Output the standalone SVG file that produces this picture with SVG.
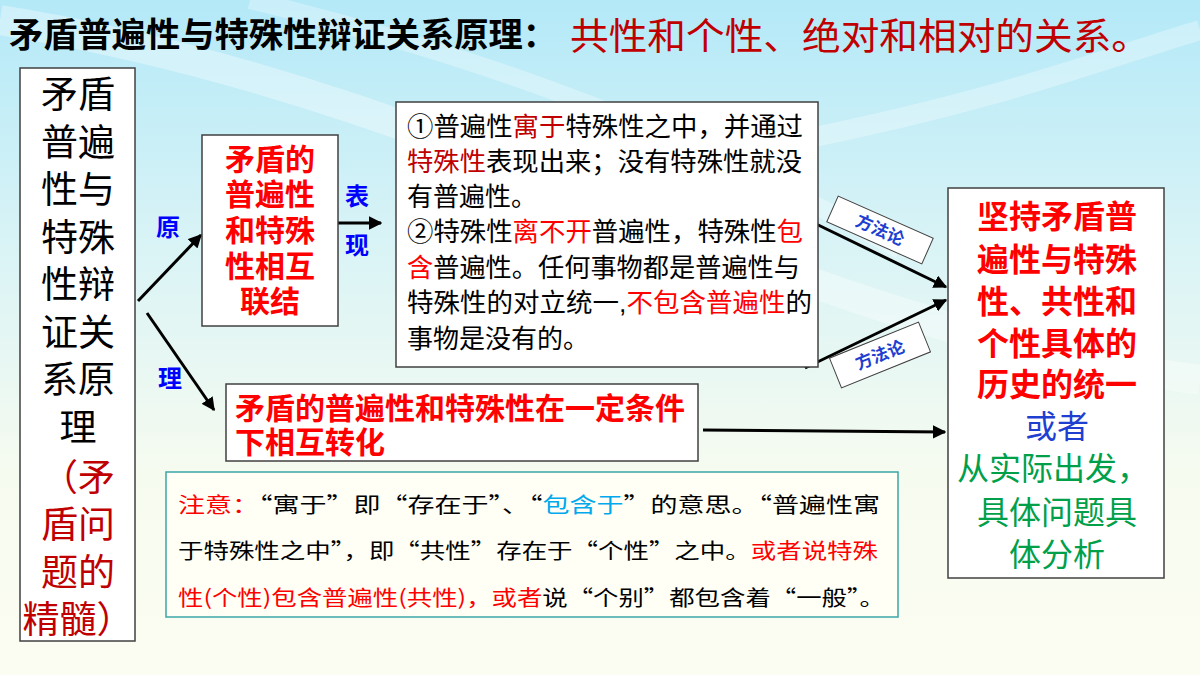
<svg xmlns="http://www.w3.org/2000/svg" width="1200" height="675" viewBox="0 0 1200 675">
<defs>
<linearGradient id="bg" x1="0" y1="0" x2="0" y2="1">
<stop offset="0" stop-color="#b4e9f8"/>
<stop offset="0.35" stop-color="#d8f3f6"/>
<stop offset="0.7" stop-color="#f6fbf0"/>
<stop offset="1" stop-color="#fcfdf2"/>
</linearGradient>
<marker id="ah" viewBox="0 0 10 10" refX="9" refY="5" markerWidth="4.5" markerHeight="4.5" orient="auto" markerUnits="strokeWidth">
<path d="M0,0 L10,5 L0,10 z" fill="#000"/>
</marker>
</defs>
<style>
text{font-family:"Liberation Sans","Noto Sans CJK SC",sans-serif;}
.cjk{font-family:"Noto Sans CJK SC","Liberation Sans",sans-serif;}
.box{fill:#fff;stroke:#404040;stroke-width:1.5;}
.arr{stroke:#000;stroke-width:3;fill:none;marker-end:url(#ah);}
.lbl{fill:#fff;stroke:#404040;stroke-width:1;}
.blue{fill:#0000ff;font-weight:bold;font-size:24px;}
.ff{fill:#1f3fd0;font-size:17px;font-weight:bold;}
.r{fill:#ff0000;}
.dr{fill:#c00000;}
</style>
<rect width="1200" height="675" fill="url(#bg)"/>
<path d="M0,20 C250,60 450,140 700,240 C900,320 1050,360 1200,380" stroke="#ffffff" stroke-opacity="0.35" stroke-width="30" fill="none"/>
<path d="M250,0 C500,60 700,140 900,250" stroke="#ffffff" stroke-opacity="0.3" stroke-width="18" fill="none"/>
<path d="M800,140 C1000,100 1100,60 1200,30" stroke="#ffffff" stroke-opacity="0.3" stroke-width="20" fill="none"/>

<g id="title" class="cjk">
<text class="cjk" x="9" y="47" font-size="34" font-weight="bold" fill="#000" textLength="548" lengthAdjust="spacingAndGlyphs">矛盾普遍性与特殊性辩证关系原理：</text>
<text class="cjk" x="570" y="50" font-size="37" fill="#c00000" textLength="580" lengthAdjust="spacingAndGlyphs">共性和个性、绝对和相对的关系。</text>
</g>

<g id="connectors">
<line class="arr" x1="138" y1="301" x2="201" y2="235"/>
<line class="arr" x1="147" y1="313" x2="214" y2="410"/>
<line class="arr" x1="334" y1="223" x2="381" y2="223"/>
<line class="arr" x1="812" y1="222" x2="946" y2="287"/>
<line class="arr" x1="805" y1="368" x2="946" y2="300"/>
<line class="arr" x1="703" y1="430" x2="945" y2="432"/>
<text class="blue" x="168" y="236" text-anchor="middle">原</text>
<text class="blue" x="170" y="387" text-anchor="middle">理</text>
<text class="blue" x="357" y="205" text-anchor="middle">表</text>
<text class="blue" x="357" y="254" text-anchor="middle">现</text>
<g transform="translate(880,230) rotate(24)">
<rect class="lbl" x="-52" y="-14" width="104" height="28"/>
<text class="ff" x="0" y="6" text-anchor="middle">方法论</text>
</g>
<g transform="translate(880,355) rotate(-22)">
<rect class="lbl" x="-48" y="-16" width="96" height="32"/>
<text class="ff" x="0" y="6" text-anchor="middle">方法论</text>
</g>
</g>

<g id="node-principle">
<rect class="box" x="20" y="68" width="115" height="573"/>
<g font-size="37" fill="#000" text-anchor="middle">
<text x="78" y="108">矛盾</text>
<text x="78" y="156">普遍</text>
<text x="78" y="203">性与</text>
<text x="78" y="251">特殊</text>
<text x="78" y="298">性辩</text>
<text x="78" y="346">证关</text>
<text x="78" y="393">系原</text>
<text x="78" y="441">理</text>
</g>
<g font-size="37" fill="#c00000" text-anchor="middle">
<text x="78" y="491">（矛</text>
<text x="78" y="538">盾问</text>
<text x="78" y="586">题的</text>
<text x="78" y="633">精髓）</text>
</g>
</g>

<g id="node-link">
<rect class="box" x="202" y="135" width="136" height="191"/>
<g font-size="30" font-weight="bold" fill="#ff0000" text-anchor="middle">
<text x="270" y="170">矛盾的</text>
<text x="270" y="205">普遍性</text>
<text x="270" y="241">和特殊</text>
<text x="270" y="277">性相互</text>
<text x="270" y="312">联结</text>
</g>
</g>

<g id="node-expression">
<rect class="box" x="396" y="102" width="422" height="265"/>
<g font-size="26" fill="#000">
<text x="407" y="136" textLength="396" lengthAdjust="spacingAndGlyphs">①普遍性<tspan class="dr">寓于</tspan>特殊性之中，并通过</text>
<text x="407" y="171" textLength="395" lengthAdjust="spacingAndGlyphs"><tspan class="dr">特殊性</tspan>表现出来；没有特殊性就没</text>
<text x="407" y="206">有普遍性。</text>
<text x="407" y="241" textLength="396" lengthAdjust="spacingAndGlyphs">②特殊性<tspan class="r">离不开</tspan>普遍性，特殊性<tspan class="r">包</tspan></text>
<text x="407" y="277" textLength="393" lengthAdjust="spacingAndGlyphs"><tspan class="r">含</tspan>普遍性。任何事物都是普遍性与</text>
<text x="407" y="312" textLength="405" lengthAdjust="spacingAndGlyphs">特殊性的对立统一,<tspan class="r">不包含普遍性</tspan>的</text>
<text x="407" y="348">事物是没有的。</text>
</g>
</g>

<g id="node-transform">
<rect class="box" x="226" y="384" width="472" height="77"/>
<g font-size="30" font-weight="bold" fill="#ff0000">
<text x="235" y="419" textLength="450" lengthAdjust="spacingAndGlyphs">矛盾的普遍性和特殊性在一定条件</text>
<text x="235" y="453">下相互转化</text>
</g>
</g>

<g id="node-method">
<rect class="box" x="948" y="188" width="216" height="390"/>
<g font-size="32" text-anchor="middle">
<g font-weight="bold" fill="#ff0000">
<text x="1057" y="228">坚持矛盾普</text>
<text x="1057" y="271">遍性与特殊</text>
<text x="1057" y="313">性、共性和</text>
<text x="1057" y="355">个性具体的</text>
<text x="1057" y="396">历史的统一</text>
</g>
<text x="1057" y="438" fill="#1f3fd0">或者</text>
<g fill="#00a04a">
<text x="1053" y="480">从实际出发，</text>
<text x="1057" y="524">具体问题具</text>
<text x="1057" y="566">体分析</text>
</g>
</g>
</g>

<g id="node-note">
<rect x="166" y="472" width="732" height="145" fill="#fffff6" stroke="#3aa6a6" stroke-width="1.5"/>
<g font-size="21" fill="#000">
<text class="cjk" x="178" y="512" textLength="702" lengthAdjust="spacingAndGlyphs"><tspan class="r">注意：</tspan>“寓于”即“存在于”、“<tspan fill="#00a8ec">包含于</tspan>”的意思。“普遍性寓</text>
<text class="cjk" x="178" y="558" textLength="700" lengthAdjust="spacingAndGlyphs">于特殊性之中”，即“共性”存在于“个性”之中。<tspan class="r">或者说特殊</tspan></text>
<text class="cjk" x="178" y="605" textLength="707" lengthAdjust="spacingAndGlyphs"><tspan class="r">性(个性)包含普遍性(共性)，或者</tspan>说“个别”都包含着“一般”。</text>
</g>
</g>
</svg>
